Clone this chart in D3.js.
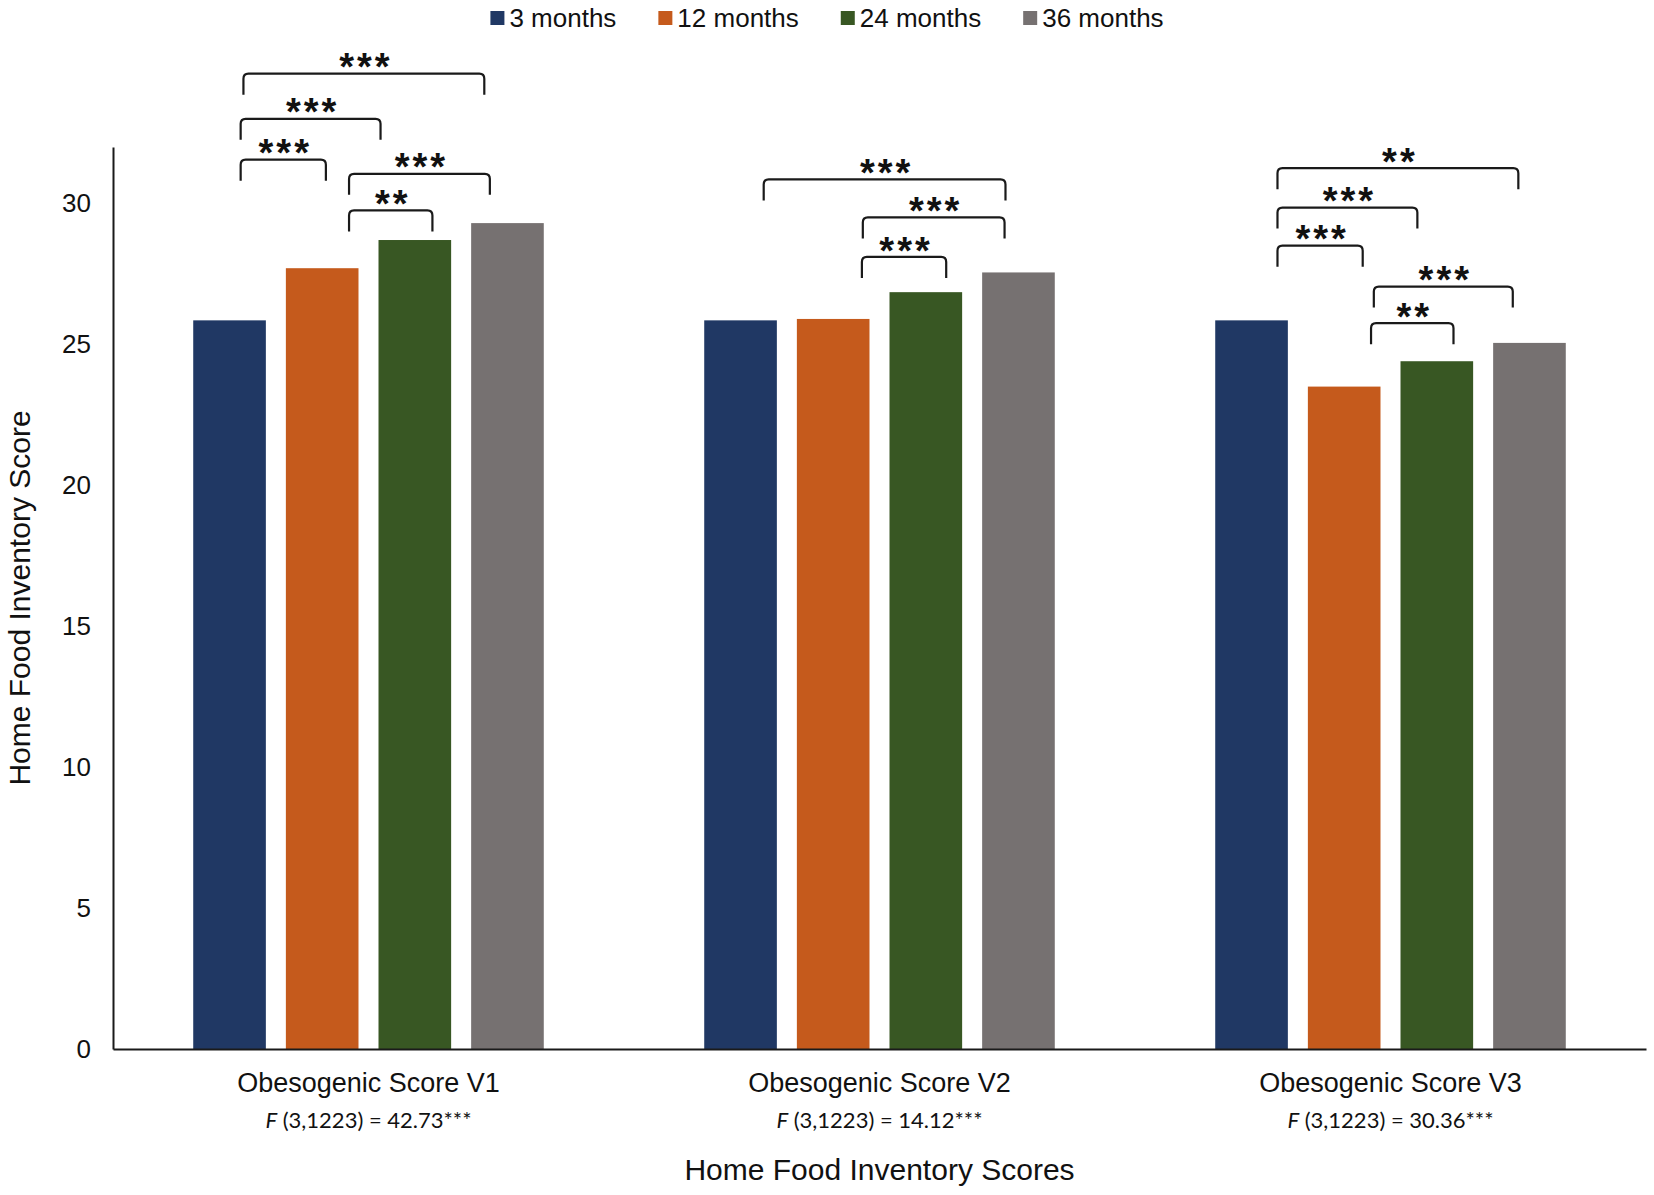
<!DOCTYPE html>
<html>
<head>
<meta charset="utf-8">
<script src="https://cdn.jsdelivr.net/npm/d3@7"></script>
<style>
  body { margin: 0; background: #fff; }
  svg { display: block; }
</style>
</head>
<body>
<div id="chart"></div>
<script>
// categories, series and values
const categories = ["Obesogenic Score V1", "Obesogenic Score V2", "Obesogenic Score V3"];
const fStats = ["42.73***", "14.12***", "30.36***"];
const series = ["3 months", "12 months", "24 months", "36 months"];
const colors = ["#203864", "#c55a1c", "#385723", "#767171"];

const months3 = [25.85, 25.85, 25.85];
const months12 = [27.7, 25.9, 23.5];
const months24 = [28.7, 26.85, 24.4];
const months36 = [29.3, 27.55, 25.05];

const yTicks = [0, 5, 10, 15, 20, 25, 30];

// significance brackets: category, start / end (in bar slots, 0 = first bar centre), level, stars
const brackets = [
    ["Obesogenic Score V1", 0.12, 1.04, 31.55, "***"],
    ["Obesogenic Score V1", 0.12, 1.63, 33.0, "***"],
    ["Obesogenic Score V1", 0.15, 2.75, 34.6, "***"],
    ["Obesogenic Score V1", 1.29, 2.81, 31.05, "***"],
    ["Obesogenic Score V1", 1.29, 2.19, 29.75, "**"],
    ["Obesogenic Score V2", 1.31, 2.22, 28.1, "***"],
    ["Obesogenic Score V2", 1.32, 2.85, 29.5, "***"],
    ["Obesogenic Score V2", 0.25, 2.86, 30.85, "***"],
    ["Obesogenic Score V3", 0.28, 2.88, 31.25, "**"],
    ["Obesogenic Score V3", 0.28, 1.79, 29.85, "***"],
    ["Obesogenic Score V3", 0.28, 1.20, 28.5, "***"],
    ["Obesogenic Score V3", 1.32, 2.82, 27.05, "***"],
    ["Obesogenic Score V3", 1.29, 2.18, 25.75, "**"]
];

const seriesValues = [months3, months12, months24, months36];

const W = 1654, H = 1195;
const plotLeft = 113, plotRight = 1646, plotTop = 147, plotBottom = 1049;
const sans = "'Liberation Sans', Arial, sans-serif";

const svg = d3.select("#chart").append("svg")
    .attr("width", W)
    .attr("height", H);

// scales
const x0 = d3.scaleBand()
    .domain(categories)
    .range([plotLeft, plotRight])
    .paddingInner(0.314)
    .paddingOuter(0.157);

const x1 = d3.scaleBand()
    .domain(series)
    .range([0, x0.bandwidth()])
    .paddingInner(0.216);

const y = d3.scaleLinear()
    .domain([0, 32])
    .range([plotBottom, plotTop]);

const color = d3.scaleOrdinal().domain(series).range(colors);

// bars
const rows = [];
categories.forEach((c, ci) => {
    series.forEach((s, si) => {
        rows.push({ cat: c, series: s, value: seriesValues[si][ci] });
    });
});

svg.append("g")
    .selectAll("rect")
    .data(rows)
    .enter()
    .append("rect")
    .attr("x", d => x0(d.cat) + x1(d.series))
    .attr("y", d => y(d.value))
    .attr("width", x1.bandwidth())
    .attr("height", d => y(0) - y(d.value))
    .attr("fill", d => color(d.series));

// y axis
const yAxis = svg.append("g")
    .attr("transform", `translate(${plotLeft},0)`)
    .call(d3.axisLeft(y).tickValues(yTicks).tickSizeInner(0).tickSizeOuter(0).tickPadding(22));
yAxis.select(".domain").attr("stroke", "#1a1a1a").attr("stroke-width", 2);
yAxis.selectAll("text")
    .style("font-family", sans)
    .style("font-size", "26px")
    .attr("fill", "#111");

// x axis
const xAxis = svg.append("g")
    .attr("transform", `translate(0,${plotBottom})`)
    .call(d3.axisBottom(x0).tickSizeInner(0).tickSizeOuter(0).tickPadding(24));
xAxis.select(".domain").attr("stroke", "#1a1a1a").attr("stroke-width", 2);
xAxis.selectAll("text")
    .style("font-family", sans)
    .style("font-size", "27px")
    .attr("fill", "#111");

// F statistics under each category
const fText = svg.append("g")
    .selectAll("text")
    .data(categories)
    .enter()
    .append("text")
    .attr("x", d => x0(d) + x0.bandwidth() / 2)
    .attr("y", 1128)
    .attr("text-anchor", "middle")
    .style("font-family", "Lato, 'Open Sans', sans-serif")
    .style("font-size", "22px")
    .attr("fill", "#111");
fText.append("tspan").style("font-style", "italic").text("F");
fText.append("tspan").text((d, i) => " (3,1223) = " + fStats[i]);

// axis titles
svg.append("text")
    .attr("x", (plotLeft + plotRight) / 2)
    .attr("y", 1180)
    .attr("text-anchor", "middle")
    .style("font-family", sans)
    .style("font-size", "30px")
    .attr("fill", "#111")
    .text("Home Food Inventory Scores");

svg.append("text")
    .attr("transform", `translate(30,${(plotTop + plotBottom) / 2}) rotate(-90)`)
    .attr("text-anchor", "middle")
    .style("font-family", sans)
    .style("font-size", "30px")
    .attr("fill", "#111")
    .text("Home Food Inventory Score");

// significance brackets
const slot = x1.step();
const leg = 21, r = 5, starSize = 38;
const bx = (cat, pos) => x0(cat) + x1(series[0]) + x1.bandwidth() / 2 + pos * slot;

const bg = svg.append("g");
brackets.forEach(b => {
    const xa = bx(b[0], b[1]);
    const xb = bx(b[0], b[2]);
    const yt = y(b[3]);
    bg.append("path")
        .attr("d", `M${xa},${yt + leg} L${xa},${yt + r} Q${xa},${yt} ${xa + r},${yt} ` +
            `L${xb - r},${yt} Q${xb},${yt} ${xb},${yt + r} L${xb},${yt + leg}`)
        .attr("fill", "none")
        .attr("stroke", "#1a1a1a")
        .attr("stroke-width", 2.2);
    bg.append("text")
        .attr("x", (xa + xb) / 2)
        .attr("dx", 2)
        .attr("y", yt - 15 + starSize * 0.57)
        .attr("text-anchor", "middle")
        .style("font-family", sans)
        .style("font-weight", "bold")
        .style("font-size", starSize + "px")
        .style("letter-spacing", "3px")
        .attr("fill", "#111")
        .text(b[4]);
});

// legend
const legend = svg.append("g");
let lx = 0;
series.forEach((s, i) => {
    const item = legend.append("g").attr("transform", `translate(${lx},0)`);
    item.append("rect")
        .attr("x", 0).attr("y", 11)
        .attr("width", 14).attr("height", 14)
        .attr("fill", color(s));
    const t = item.append("text")
        .attr("x", 19).attr("y", 27)
        .style("font-family", sans)
        .style("font-size", "26px")
        .attr("fill", "#111")
        .text(s);
    lx += 19 + t.node().getComputedTextLength() + 42;
});
const legendWidth = lx - 42;
legend.attr("transform", `translate(${827 - legendWidth / 2},0)`);
</script>
</body>
</html>
